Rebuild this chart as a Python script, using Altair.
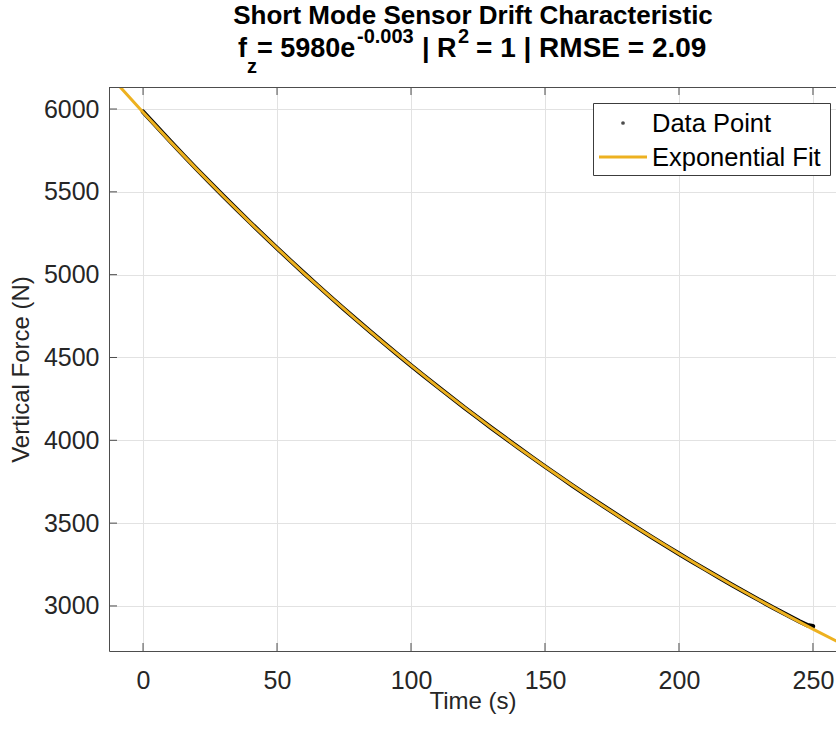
import altair as alt
import pandas as pd

# Measured sensor drift samples (time in s, vertical force in N)
time_s = [0, 5, 10, 15, 20, 25, 30, 35, 40, 45, 50, 55, 60, 65, 70, 75, 80, 85, 90, 95,
          100, 105, 110, 115, 120, 125, 130, 135, 140, 145, 150, 155, 160, 165, 170, 175,
          180, 185, 190, 195, 200, 205, 210, 215, 220, 225, 230, 235, 240, 245, 248, 250]
force_n = [5984, 5896, 5808, 5722, 5638, 5556, 5474, 5394, 5315, 5237, 5160, 5085, 5010,
           4937, 4864, 4793, 4723, 4654, 4586, 4518, 4452, 4387, 4323, 4260, 4197, 4136,
           4075, 4016, 3957, 3899, 3842, 3786, 3730, 3675, 3622, 3569, 3516, 3465, 3414,
           3364, 3315, 3266, 3219, 3172, 3125, 3080, 3035, 2991, 2948, 2906, 2883, 2877]

# Exponential fit curve
fit_t = [-20, -10, 0, 10, 20, 30, 40, 50, 60, 70, 80, 90, 100, 110, 120, 130, 140, 150,
         160, 170, 180, 190, 200, 210, 220, 230, 240, 250, 260, 270]
fit_f = [6343.5, 6159.0, 5980.0, 5806.2, 5637.4, 5473.5, 5314.4, 5159.9, 5009.9, 4864.3,
         4722.9, 4585.6, 4452.3, 4322.9, 4197.2, 4075.2, 3956.7, 3841.7, 3730.0, 3621.6,
         3516.3, 3414.1, 3314.9, 3218.5, 3125.0, 3034.1, 2945.9, 2860.3, 2777.2, 2696.5]

x_ticks = [0, 50, 100, 150, 200, 250]
y_ticks = [3000, 3500, 4000, 4500, 5000, 5500, 6000]

X_DOMAIN = [-12.7, 258.6]
Y_DOMAIN = [2728, 6133]
W, H = 727, 564
FONT = "Liberation Sans"
TXT = "#262626"
AXC = "#4d4d4d"
ORANGE = "#EDB120"

data_df = pd.DataFrame({"t": time_s, "f": force_n})
fit_df = pd.DataFrame({"t": fit_t, "f": fit_f})
xt_df = pd.DataFrame({"t": x_ticks})
yt_df = pd.DataFrame({"f": y_ticks})
one = pd.DataFrame({"k": [0]})

xs = alt.Scale(domain=X_DOMAIN, nice=False, zero=False)
ys = alt.Scale(domain=Y_DOMAIN, nice=False, zero=False)

x_axis = alt.Axis(values=x_ticks, format="d", title="Time (s)", grid=True, ticks=False,
                  labelPadding=17, titleBaseline="alphabetic", titleY=57)
y_axis = alt.Axis(values=y_ticks, format="d", title="Vertical Force (N)", grid=True,
                  ticks=False, labelPadding=10, titleBaseline="alphabetic", titleX=-81,
                  titleY=H / 2, titleAngle=270)

X = alt.X("t:Q", scale=xs, axis=x_axis)
Y = alt.Y("f:Q", scale=ys, axis=y_axis)

data_line = alt.Chart(data_df).mark_line(
    color="black", strokeWidth=4.5, clip=True, strokeCap="round"
).encode(x=X, y=Y)

fit_line = alt.Chart(fit_df).mark_line(
    color=ORANGE, strokeWidth=3, clip=True
).encode(x=X, y=Y)

# Inward ticks (bottom, top, left) and the top frame line
x_ticks_bottom = alt.Chart(xt_df).mark_rule(color=AXC, strokeWidth=1).encode(
    x=X, y=alt.value(H), y2=alt.value(H - 8))
x_ticks_top = alt.Chart(xt_df).mark_rule(color=AXC, strokeWidth=1).encode(
    x=X, y=alt.value(0), y2=alt.value(8))
y_ticks_left = alt.Chart(yt_df).mark_rule(color=AXC, strokeWidth=1).encode(
    y=Y, x=alt.value(0), x2=alt.value(8))
top_frame = alt.Chart(one).mark_rule(color=AXC, strokeWidth=1).encode(
    x=alt.value(0), x2=alt.value(W + 5), y=alt.value(0.5))

# Legend box
leg_box = alt.Chart(one).mark_rect(fill="white", stroke="#3c3c3c", strokeWidth=1).encode(
    x=alt.value(484.5), x2=alt.value(721.5), y=alt.value(16.5), y2=alt.value(88.5))
leg_dot = alt.Chart(one).mark_point(filled=True, color="black", size=14, shape="circle").encode(
    x=alt.value(514), y=alt.value(36))
leg_line = alt.Chart(one).mark_rule(color=ORANGE, strokeWidth=3).encode(
    x=alt.value(490), x2=alt.value(538), y=alt.value(70))
leg_txt1 = alt.Chart(one).mark_text(text="Data Point", align="left", baseline="middle",
                                    font=FONT, fontSize=25.5, color="black").encode(
    x=alt.value(543), y=alt.value(37))
leg_txt2 = alt.Chart(one).mark_text(text="Exponential Fit", align="left", baseline="middle",
                                    font=FONT, fontSize=25.5, color="black").encode(
    x=alt.value(543), y=alt.value(71))

# Two-line title with subscript and superscripts
M1, M2, S = 26, 27, 20
t1 = alt.Chart(one).mark_text(text="Short Mode Sensor Drift Characteristic", align="center",
                              baseline="alphabetic", font=FONT, fontSize=M1,
                              fontWeight="bold", color="black").encode(
    x=alt.value(364), y=alt.value(-63))

pieces = [
    ("f", 129, -30, M2),
    ("z", 138, -14, S),
    (" = 5980e", 148, -30, M2),
    ("-0.003", 248, -44, S),
    (" | R", 313, -30, M2),
    ("2", 349, -44, S),
    (" = 1 | RMSE = 2.09", 367, -30, 28),
]
t2_layers = [
    alt.Chart(one).mark_text(text=txt, align="left", baseline="alphabetic", font=FONT,
                             fontSize=fs, fontWeight="bold", color="black").encode(
        x=alt.value(px), y=alt.value(py))
    for txt, px, py, fs in pieces
]

chart = alt.layer(
    data_line, fit_line, x_ticks_bottom, x_ticks_top, y_ticks_left, top_frame,
    leg_box, leg_dot, leg_line, leg_txt1, leg_txt2, t1, *t2_layers
).properties(
    width=W, height=H,
    background="white",
    autosize=alt.AutoSizeParams(type="none"),
    padding={"left": 109, "top": 87, "right": 0, "bottom": 80},
).configure_view(
    stroke=None
).configure_axis(
    domainColor=AXC, domainWidth=1,
    gridColor="#e2e2e2", gridWidth=1,
    labelFont=FONT, labelFontSize=25, labelColor=TXT,
    titleFont=FONT, titleFontSize=24, titleFontWeight="normal", titleColor=TXT,
)

chart.save("out.html", embed_options={"renderer": "svg", "actions": False})
